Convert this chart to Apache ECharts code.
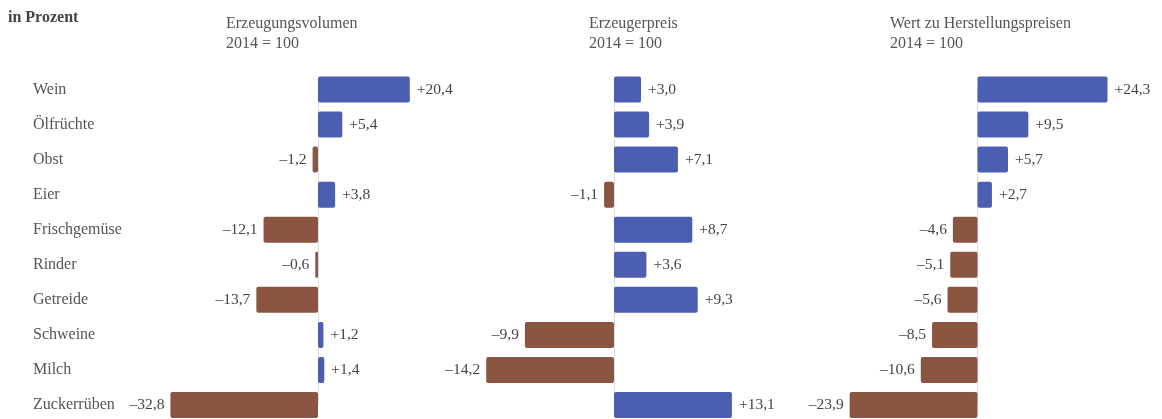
<!DOCTYPE html>
<html>
<head>
<meta charset="utf-8">
<script src="https://cdn.jsdelivr.net/npm/echarts@6/dist/echarts.min.js"></script>
<style>
  html, body { margin: 0; padding: 0; background: #fff; }
  #chart { width: 1162px; height: 419px; }
</style>
</head>
<body>
<div id="chart"></div>
<script>
// Veränderung 2019 gegenüber 2014, in Prozent
var categories = ['Wein', 'Ölfrüchte', 'Obst', 'Eier', 'Frischgemüse', 'Rinder', 'Getreide', 'Schweine', 'Milch', 'Zuckerrüben'];
var volumen = [20.4, 5.4, -1.2, 3.8, -12.1, -0.6, -13.7, 1.2, 1.4, -32.8];
var preis = [3.0, 3.9, 7.1, -1.1, 8.7, 3.6, 9.3, -9.9, -14.2, 13.1];
var wert = [24.3, 9.5, 5.7, 2.7, -4.6, -5.1, -5.6, -8.5, -10.6, -23.9];
var panelTitles = ['Erzeugungsvolumen\n2014 = 100', 'Erzeugerpreis\n2014 = 100', 'Wert zu Herstellungspreisen\n2014 = 100'];

var chart = echarts.init(document.getElementById('chart'));

var blau = '#4b5eb1';
var braun = '#8a5641';
var font = '"Liberation Serif", "DejaVu Serif", serif';

// formatiert +20,4 bzw. –12,1
function fmt(v) {
  var s = Math.abs(v).toFixed(1).replace('.', ',');
  return (v > 0 ? '+' : '\u2013') + s;
}

function toData(arr) {
  return arr.map(function (v) {
    return {
      value: v,
      itemStyle: { color: v >= 0 ? blau : braun },
      label: { position: v >= 0 ? 'right' : 'left', distance: v >= 0 ? 7 : 6 }
    };
  });
}

// Gitter je Panel: Nullpunkt bei x=318 / 614 / 977.5
// Kategorien ohne boundaryGap: erste Zeile bei y=89.5, letzte bei y=405
var grids = [
  { left: 160.5, width: 270, top: 89.5, height: 315.5 },
  { left: 470, width: 288, top: 89.5, height: 315.5 },
  { left: 838.4, width: 288.9, top: 89.5, height: 315.5 }
];
var ranges = [[-35, 25], [-16, 16], [-26, 28]];
var panels = [volumen, preis, wert];

var xAxes = [], yAxes = [], series = [];
for (var i = 0; i < 3; i++) {
  xAxes.push({
    type: 'value', gridIndex: i, min: ranges[i][0], max: ranges[i][1],
    show: false, splitLine: { show: false }
  });
  yAxes.push({
    type: 'category', gridIndex: i, data: categories, inverse: true,
    boundaryGap: false,
    axisTick: { show: false },
    axisLine: { show: true, onZero: true, lineStyle: { color: '#d8d8d8', type: 'dotted', width: 1 } },
    axisLabel: i === 0 ? {
      show: true, align: 'left', margin: 127.5, verticalAlign: 'middle',
      fontFamily: font, fontSize: 16, color: '#555', padding: [0, 0, 4, 0]
    } : { show: false }
  });
  series.push({
    type: 'bar', xAxisIndex: i, yAxisIndex: i,
    data: toData(panels[i]),
    barWidth: 26,
    itemStyle: { borderRadius: 2 },
    label: {
      show: true,
      fontFamily: font, fontSize: 15.5, color: '#444',
      formatter: function (p) { return fmt(p.value); }
    }
  });
}

var titleX = [226, 589, 890];
var titles = [{
  text: 'in Prozent', left: 8, top: 10, padding: 0,
  textStyle: { fontFamily: font, fontSize: 16, fontWeight: 'bold', color: '#444' }
}];
for (var j = 0; j < 3; j++) {
  titles.push({
    text: panelTitles[j], left: titleX[j], top: 14, padding: 0,
    textStyle: { fontFamily: font, fontSize: 16, fontWeight: 'normal', color: '#555', lineHeight: 20 }
  });
}

chart.setOption({
  animation: false,
  title: titles,
  grid: grids,
  xAxis: xAxes,
  yAxis: yAxes,
  series: series
});
</script>
</body>
</html>
